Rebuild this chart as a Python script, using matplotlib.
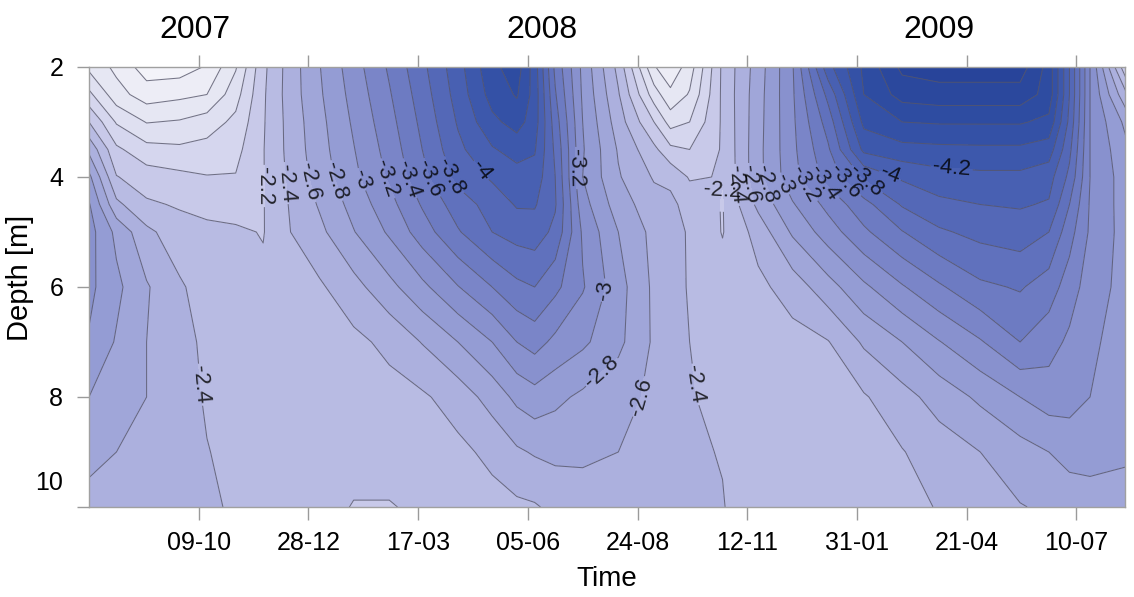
import datetime as dt
import numpy as np
import matplotlib
matplotlib.use("Agg")
import matplotlib.pyplot as plt
import matplotlib.dates as mdates
from matplotlib.colors import LinearSegmentedColormap
from matplotlib.transforms import ScaledTranslation, blended_transform_factory

plt.rcParams["font.family"] = ["Liberation Sans", "DejaVu Sans"]

# profile dates (day-month-year) and depths [m]
dates = ["21-07-2007", "10-08-2007", "01-09-2007", "25-09-2007", "15-10-2007",
         "05-11-2007", "25-11-2007", "15-12-2007", "05-01-2008", "30-01-2008",
         "25-02-2008", "20-03-2008", "15-04-2008", "10-05-2008", "28-05-2008",
         "10-06-2008", "25-06-2008", "15-07-2008", "10-08-2008", "05-09-2008",
         "17-09-2008", "01-10-2008", "25-10-2008", "20-11-2008", "15-12-2008",
         "10-01-2009", "05-02-2009", "05-03-2009", "01-04-2009", "01-05-2009",
         "30-05-2009", "20-06-2009", "05-07-2009", "20-07-2009", "15-08-2009"]
depths = [2, 2.5, 3, 3.5, 4, 4.5, 5, 6, 7, 8, 9, 10]

# one profile per date, from 2 m down to 10 m
profiles = [
    [-1.55, -1.85, -2.20, -2.55, -2.85, -3.02, -3.08, -3.05, -2.98, -2.80, -2.67, -2.52],
    [-1.35, -1.48, -1.78, -2.04, -2.21, -2.45, -2.75, -2.85, -2.78, -2.70, -2.60, -2.50],
    [-1.10, -1.30, -1.59, -1.87, -2.10, -2.23, -2.45, -2.62, -2.60, -2.60, -2.55, -2.48],
    [-1.10, -1.35, -1.62, -1.84, -2.05, -2.18, -2.28, -2.43, -2.50, -2.52, -2.50, -2.46],
    [-1.22, -1.40, -1.70, -1.87, -2.01, -2.15, -2.24, -2.30, -2.34, -2.37, -2.41, -2.45],
    [-1.58, -1.72, -1.85, -1.94, -2.01, -2.12, -2.23, -2.28, -2.30, -2.32, -2.33, -2.36],
    [-2.15, -2.17, -2.18, -2.19, -2.19, -2.19, -2.19, -2.24, -2.27, -2.28, -2.29, -2.30],
    [-2.50, -2.50, -2.48, -2.47, -2.45, -2.42, -2.40, -2.34, -2.30, -2.28, -2.27, -2.27],
    [-2.79, -2.77, -2.74, -2.72, -2.69, -2.62, -2.55, -2.37, -2.32, -2.30, -2.28, -2.27],
    [-3.11, -3.07, -3.03, -2.99, -2.95, -2.87, -2.79, -2.53, -2.35, -2.30, -2.27, -2.19],
    [-3.43, -3.38, -3.33, -3.28, -3.23, -3.13, -3.03, -2.74, -2.45, -2.33, -2.27, -2.19],
    [-3.75, -3.70, -3.65, -3.60, -3.54, -3.42, -3.30, -2.95, -2.61, -2.37, -2.30, -2.23],
    [-4.12, -4.08, -4.02, -3.95, -3.86, -3.70, -3.58, -3.19, -2.80, -2.49, -2.35, -2.28],
    [-4.55, -4.48, -4.35, -4.18, -4.03, -3.88, -3.80, -3.40, -3.00, -2.68, -2.45, -2.33],
    [-4.70, -4.62, -4.48, -4.28, -4.12, -4.02, -3.88, -3.55, -3.20, -2.85, -2.57, -2.36],
    [-4.30, -4.32, -4.30, -4.22, -4.12, -4.02, -3.90, -3.60, -3.28, -2.92, -2.62, -2.38],
    [-3.55, -3.62, -3.70, -3.76, -3.80, -3.82, -3.75, -3.45, -3.15, -2.85, -2.65, -2.45],
    [-2.95, -2.97, -3.00, -3.02, -3.00, -3.08, -3.17, -3.22, -3.04, -2.76, -2.62, -2.55],
    [-2.34, -2.42, -2.50, -2.58, -2.62, -2.70, -2.80, -2.88, -2.85, -2.67, -2.60, -2.53],
    [-1.42, -1.70, -2.00, -2.25, -2.38, -2.48, -2.54, -2.56, -2.57, -2.56, -2.52, -2.48],
    [-1.25, -1.45, -1.72, -2.05, -2.35, -2.45, -2.47, -2.49, -2.49, -2.50, -2.48, -2.46],
    [-1.50, -1.62, -1.80, -2.00, -2.18, -2.32, -2.38, -2.38, -2.40, -2.41, -2.43, -2.45],
    [-2.24, -2.24, -2.23, -2.22, -2.21, -2.19, -2.19, -2.28, -2.33, -2.36, -2.39, -2.41],
    [-2.70, -2.72, -2.73, -2.74, -2.74, -2.65, -2.48, -2.35, -2.30, -2.28, -2.27, -2.27],
    [-3.18, -3.17, -3.16, -3.15, -3.13, -2.98, -2.83, -2.49, -2.33, -2.30, -2.28, -2.27],
    [-4.13, -3.86, -3.69, -3.57, -3.48, -3.26, -3.10, -2.72, -2.39, -2.33, -2.30, -2.28],
    [-4.64, -4.60, -4.45, -4.25, -3.83, -3.53, -3.36, -2.96, -2.63, -2.38, -2.32, -2.30],
    [-5.05, -4.88, -4.60, -4.33, -4.03, -3.82, -3.59, -3.18, -2.80, -2.53, -2.39, -2.35],
    [-5.10, -4.92, -4.62, -4.35, -4.12, -3.95, -3.77, -3.37, -2.99, -2.68, -2.50, -2.41],
    [-5.10, -4.92, -4.62, -4.36, -4.15, -4.00, -3.86, -3.56, -3.18, -2.84, -2.60, -2.50],
    [-5.10, -4.92, -4.62, -4.36, -4.15, -4.02, -3.90, -3.62, -3.40, -3.00, -2.72, -2.59],
    [-4.72, -4.72, -4.55, -4.30, -4.08, -3.98, -3.80, -3.50, -3.28, -3.10, -2.80, -2.63],
    [-4.00, -4.00, -3.95, -3.85, -3.75, -3.60, -3.48, -3.30, -3.16, -3.08, -2.87, -2.68],
    [-3.20, -3.20, -3.20, -3.20, -3.20, -3.18, -3.17, -3.10, -3.03, -3.00, -2.88, -2.70],
    [-2.05, -2.45, -2.75, -2.85, -2.90, -2.91, -2.92, -2.93, -2.93, -2.90, -2.83, -2.72],
]

tick_dates = ["09-10-2007", "28-12-2007", "17-03-2008", "05-06-2008", "24-08-2008",
              "12-11-2008", "31-01-2009", "21-04-2009", "10-07-2009"]
years = ["2007", "2008", "2009"]

# contour levels every 0.2
levels = np.round(np.arange(-26, -4) * 0.2, 1)

# colour ramp: value -> rgb
ramp_values = [-5.2, -4.6, -4.2, -3.8, -3.4, -3.0, -2.6, -2.3, -2.0, -1.6, -1.0]
ramp_colors = [(38, 66, 152), (48, 78, 163), (66, 92, 175), (90, 108, 186),
               (116, 128, 197), (142, 150, 209), (166, 171, 219), (184, 187, 227),
               (208, 209, 236), (227, 228, 242), (246, 246, 250)]


def to_num(s):
    return mdates.date2num(dt.datetime.strptime(s, "%d-%m-%Y"))


vmin, vmax = ramp_values[0], ramp_values[-1]
cmap = LinearSegmentedColormap.from_list(
    "depth_blue",
    [((v - vmin) / (vmax - vmin), tuple(c / 255 for c in rgb))
     for v, rgb in zip(ramp_values, ramp_colors)])

x = np.array([to_num(d) for d in dates])
y = np.array(depths, dtype=float)
X, Y = np.meshgrid(x, y)
Z = np.array(profiles).T

fig = plt.figure(figsize=(11.34, 5.97), dpi=100)
ax = fig.add_axes([89 / 1134, 90 / 597, 1036 / 1134, 440 / 597])

ax.contourf(X, Y, Z, levels=levels, cmap=cmap, vmin=vmin, vmax=vmax)

# one line set per level, so each label lands on its own level
line_sets = {}
for lev in levels:
    if Z.min() < lev < Z.max():
        line_sets[round(float(lev), 1)] = ax.contour(
            X, Y, Z, levels=[lev], colors="#55556a", linewidths=0.75,
            linestyles="solid", alpha=0.8)

ax.set_xlim(to_num("21-07-2007"), to_num("14-08-2009") + 0.5)
ax.set_ylim(10, 2)


def px(xp, yp):
    """image pixel (origin top-left) -> data coords"""
    return tuple(ax.transData.inverted().transform((xp, 597 - yp)))


# contour labels: (level, image x, image y)
label_spots = [
    (-2.2, 264, 186), (-2.4, 287, 183), (-2.6, 309, 182), (-2.8, 335, 181),
    (-3.0, 360, 180), (-3.2, 386, 179), (-3.4, 410, 178), (-3.6, 432, 177),
    (-3.8, 452, 176), (-4.0, 475, 175),
    (-2.4, 197, 385), (-3.2, 567, 168), (-3.0, 604, 290), (-2.8, 607, 378),
    (-2.6, 641, 397), (-2.4, 691, 385),
    (-2.2, 714, 188), (-2.4, 736, 185), (-2.6, 755, 183), (-2.8, 774, 181),
    (-3.0, 794, 179), (-3.2, 814, 177), (-3.4, 834, 175), (-3.6, 853, 173),
    (-3.8, 873, 170), (-4.0, 893, 167), (-4.2, 952, 164),
]
spots_by_level = {}
for lev, xp, yp in label_spots:
    spots_by_level.setdefault(lev, []).append(px(xp, yp))
for lev, pts in spots_by_level.items():
    ax.clabel(line_sets[lev], manual=pts, fmt="%g", fontsize=16,
              colors="black", inline=True, inline_spacing=2)

ax.set_xticks([to_num(d) for d in tick_dates])
ax.xaxis.set_major_formatter(mdates.DateFormatter("%d-%m"))
ax.set_yticks([2, 4, 6, 8, 10], labels=["2", "4", "6", "8", "10"])

ax.tick_params(axis="x", direction="out", length=9, width=1, color="#9a9a9a",
               labelsize=18, pad=8, top=True, labeltop=False)
ax.tick_params(axis="y", direction="out", length=8.5, width=1, color="#9a9a9a",
               labelsize=18, pad=10)
for sp in ax.spines.values():
    sp.set_color("#a0a0a0")
    sp.set_linewidth(1)

# the "10" label sits a bit above its tick
for lab in ax.get_yticklabels():
    if lab.get_text() == "10":
        lab.set_transform(lab.get_transform()
                          + ScaledTranslation(0, 0.26, fig.dpi_scale_trans))

ax.set_ylabel("Depth [m]", fontsize=21)
ax.yaxis.set_label_coords(-0.053, 0.52)
ax.set_xlabel("Time", fontsize=20)
ax.xaxis.set_label_coords(0.5, -0.134)

top = blended_transform_factory(ax.transData, ax.transAxes)
for yr, d in zip(years, ["06-10-2007", "15-06-2008", "01-04-2009"]):
    ax.text(to_num(d), 1.084, yr, transform=top, ha="center", va="center",
            fontsize=23)

fig.savefig("out.png", dpi=100)
